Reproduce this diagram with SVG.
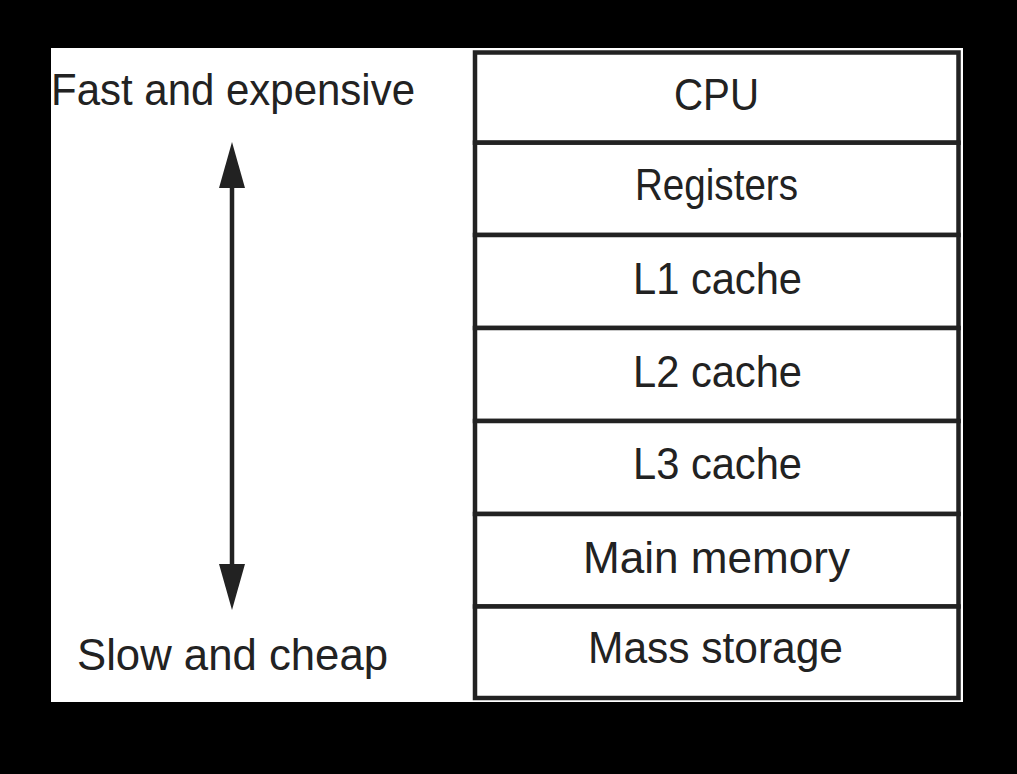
<svg xmlns="http://www.w3.org/2000/svg" width="1017" height="774" viewBox="0 0 1017 774">
<style>
.lbl{font-family:"Liberation Sans","DejaVu Sans",sans-serif;font-size:45px;fill:#222;}
.box{fill:#fff;stroke:#222;stroke-width:4.5;}
.c{text-anchor:middle;}
</style>
<defs>
<marker id="ah" viewBox="0 0 46 26" refX="0" refY="13" markerWidth="46" markerHeight="26" markerUnits="userSpaceOnUse" orient="auto-start-reverse">
<path d="M0,0 L46,13 L0,26 Z" fill="#222"/>
</marker>
</defs>
<rect x="0" y="0" width="1017" height="774" fill="#000"/>
<rect x="51" y="48" width="912" height="654" fill="#fff"/>
<g id="cpu"><rect class="box" x="475" y="52.5" width="483.5" height="90.2"/><text class="lbl c" x="716.5" y="110" textLength="85" lengthAdjust="spacingAndGlyphs">CPU</text></g>
<g id="registers"><rect class="box" x="475" y="142.7" width="483.5" height="92.3"/><text class="lbl c" x="716.5" y="200" textLength="163" lengthAdjust="spacingAndGlyphs">Registers</text></g>
<g id="l1"><rect class="box" x="475" y="235" width="483.5" height="93"/><text class="lbl c" x="717.5" y="294" textLength="169" lengthAdjust="spacingAndGlyphs">L1 cache</text></g>
<g id="l2"><rect class="box" x="475" y="328" width="483.5" height="93"/><text class="lbl c" x="717.5" y="387" textLength="169" lengthAdjust="spacingAndGlyphs">L2 cache</text></g>
<g id="l3"><rect class="box" x="475" y="421" width="483.5" height="93"/><text class="lbl c" x="717.5" y="479" textLength="169" lengthAdjust="spacingAndGlyphs">L3 cache</text></g>
<g id="main"><rect class="box" x="475" y="514" width="483.5" height="92.5"/><text class="lbl c" x="716.5" y="573" textLength="267" lengthAdjust="spacingAndGlyphs">Main memory</text></g>
<g id="mass"><rect class="box" x="475" y="606.5" width="483.5" height="91.5"/><text class="lbl c" x="715.5" y="663" textLength="255" lengthAdjust="spacingAndGlyphs">Mass storage</text></g>
<g id="fast"><text class="lbl" x="51" y="105" textLength="364" lengthAdjust="spacingAndGlyphs">Fast and expensive</text></g>
<g id="slow"><text class="lbl" x="77" y="670" textLength="311" lengthAdjust="spacingAndGlyphs">Slow and cheap</text></g>
<g id="connectors">
<line x1="232" y1="188" x2="232" y2="564" stroke="#222" stroke-width="4.5" marker-start="url(#ah)" marker-end="url(#ah)"/>
</g>
</svg>
